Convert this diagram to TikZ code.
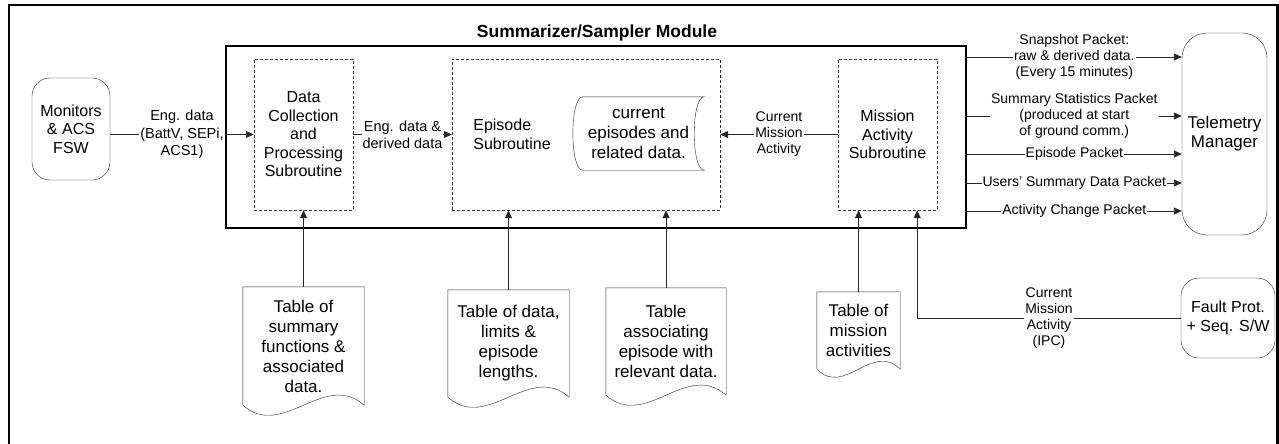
\documentclass[tikz,border=0pt]{standalone}
\usepackage{fontspec}
\setmainfont{Liberation Sans}
\usetikzlibrary{positioning,arrows.meta}

\begin{document}
\begin{tikzpicture}[x=1pt,y=-1pt,
	txt/.style={font=\fontsize{16}{18.5}\selectfont,align=center},
	lbl/.style={font=\fontsize{14}{16}\selectfont,align=center,fill=white,inner sep=1pt},
	subbox/.style={txt,draw=black!80,dash pattern=on 3pt off 2pt,minimum width=#1,minimum height=151pt},
	rbox/.style={txt,draw=black!85,rounded corners=18pt},
	doc/.style={txt,font=\fontsize{17}{20}\selectfont,inner sep=2pt},
	flow/.style={draw=black!85,line width=.9pt,-{Triangle[length=8pt,width=7pt]}}]
	
	\useasboundingbox (0,0) rectangle (1279,444);
	\draw[line width=2.5pt] (9,5) rectangle (1277.5,470);
	
	\node[draw,line width=1.6pt,minimum width=740pt,minimum height=182pt] (mod) at (596,137) {};
	\node[font=\bfseries\fontsize{17.5}{20}\selectfont] (modtitle) at (597,33) {Summarizer/Sampler Module};
	
	\node[rbox,minimum width=78pt,minimum height=102pt] (mon) at (71,129) {Monitors\\\& ACS\\FSW};
	\node[rbox,rounded corners=25pt,font=\fontsize{17}{19}\selectfont,minimum width=85pt,minimum height=202pt] (tm) at (1224.5,134) {Telemetry\\Manager};
	\node[rbox,minimum width=94pt,minimum height=80pt] (fp) at (1228,318) {Fault Prot.\\+ Seq. S/W};
	
	\node[subbox=99pt] (dc) at (303.5,134.5) {Data\\Collection\\and\\Processing\\Subroutine};
	\node[subbox=268pt] (ep) at (586,134.5) {};
	\node[txt,align=left,right=18pt of ep.west] (eptxt) {Episode\\Subroutine};
	\node[subbox=99pt] (ma) at (887.5,134.5) {Mission\\Activity\\Subroutine};
	
	\node[doc,minimum width=131pt,minimum height=73pt] (cur) at (638.5,133.5) {current\\episodes and\\related data.};
	\draw[black!85] ([xshift=10pt]cur.north west) -- (cur.north east) .. controls +(-13.3,0) and +(-13.3,0) .. (cur.south east) -- ([xshift=10pt]cur.south west) .. controls +(-13.3,0) and +(-13.3,0) .. ([xshift=10pt]cur.north west) -- cycle;
	
	\node[doc,minimum width=121pt,minimum height=118pt] (d1) at (303.5,346) {Table of\\summary\\functions \&\\associated\\data.};
	\node[doc,minimum width=121pt,minimum height=107pt] (d2) at (508.5,343.5) {Table of data,\\limits \&\\episode\\lengths.};
	\node[doc,minimum width=120pt,minimum height=107pt] (d3) at (666,341.5) {Table\\associating\\episode with\\relevant data.};
	\node[doc,minimum width=83pt,minimum height=77pt] (d4) at (858.5,330.5) {Table of\\mission\\activities};
	\foreach \d/\a/\b in {d1/40/35,d2/40/35,d3/40/35,d4/28/28}
	\draw[black!85] (\d.south west) |- (\d.north east) -- (\d.south east) .. controls +(-\a,-\b) and +(\a,\b) .. (\d.south west);
	
	\draw[flow] (dc.west -| mon.east) -- node[lbl,font=\fontsize{14.5}{17.5}\selectfont]{Eng. data\\(BattV, SEPi,\\ACS1)} (dc.west);
	\draw[flow] (dc.east) -- node[lbl,font=\fontsize{14.5}{17}\selectfont]{Eng. data \&\\derived data} (ep.west);
	\draw[flow] (ma.west) -- node[lbl]{Current\\Mission\\Activity} (ep.east);
	
	\foreach \y/\t in {57/{Snapshot Packet:\\raw \& derived data.\\(Every 15 minutes)},116/{Summary Statistics Packet\\(produced at start\\of ground comm.)},154/Episode Packet,183/Users' Summary Data Packet,211/Activity Change Packet}{
		\coordinate (o\y) at (0,\y);
		\draw[flow] (mod.east |- o\y) -- node[lbl]{\t} (tm.west |- o\y);
	}
	
	\draw[flow] (d1.north) -- (dc.south);
	\draw[flow] (d2.north) -- (d2.north |- ep.south);
	\draw[flow] (d3.north) -- (d3.north |- ep.south);
	\draw[flow] (d4.north) -- (d4.north |- ma.south);
	\coordinate (mafb) at ([xshift=-20pt]ma.south east);
	\draw[flow] (fp.west) -| node[lbl,pos=.25]{Current\\Mission\\Activity\\(IPC)} (mafb);
\end{tikzpicture}
\end{document}
